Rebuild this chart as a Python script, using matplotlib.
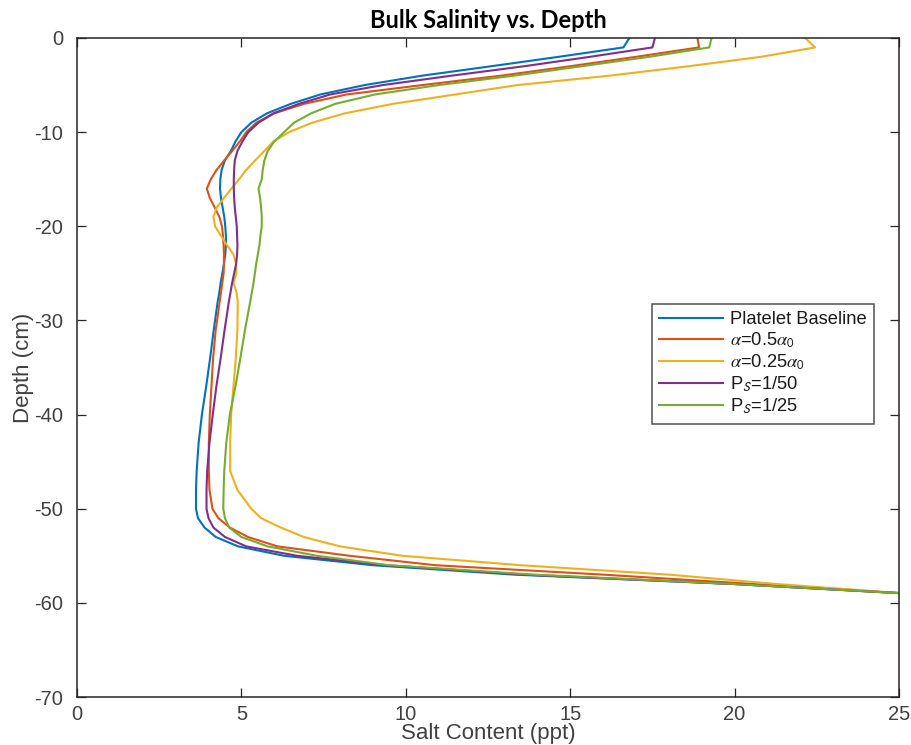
import matplotlib
matplotlib.use("Agg")
import matplotlib.pyplot as plt

# depth grid (cm) shared by all runs
depth = [0, -1, -2, -3, -4, -5, -6, -7, -8, -9, -10, -11, -12, -13, -14,
         -15, -16, -17, -18, -19, -20, -21, -22, -23, -24, -25, -26, -27,
         -28, -31, -34, -37, -40, -43, -46, -48, -50, -51, -52, -53, -54,
         -55, -56, -57, -58, -59]

# bulk salt content (ppt) for each run
baseline = [16.8, 16.62, 14.65, 12.6, 10.5, 8.75, 7.4, 6.5, 5.78, 5.3, 5.0,
            4.82, 4.68, 4.5, 4.4, 4.36, 4.35, 4.38, 4.43, 4.48, 4.51, 4.53,
            4.53, 4.51, 4.47, 4.42, 4.37, 4.33, 4.28, 4.16, 4.05, 3.93, 3.8,
            3.7, 3.64, 3.62, 3.62, 3.68, 3.88, 4.22, 4.9, 6.3, 9.0, 13.3,
            20.0, 25.2]
alpha_half = [18.87, 18.92, 17.0, 15.0, 12.9, 10.5, 8.2, 6.9, 6.0, 5.45,
              5.15, 4.95, 4.72, 4.48, 4.25, 4.07, 3.95, 4.04, 4.19, 4.33,
              4.41, 4.44, 4.46, 4.47, 4.47, 4.46, 4.42, 4.38, 4.34, 4.22,
              4.14, 4.09, 4.04, 4.01, 4.01, 4.03, 4.12, 4.3, 4.65, 5.2, 6.1,
              8.3, 10.9, 16.0, 20.6, 25.2]
alpha_quarter = [22.15, 22.45, 20.8, 18.6, 16.2, 13.4, 11.5, 9.6, 8.15, 7.15,
                 6.45, 5.97, 5.7, 5.42, 5.15, 4.93, 4.7, 4.47, 4.25, 4.15,
                 4.2, 4.38, 4.56, 4.76, 4.84, 4.85, 4.76, 4.85, 4.89, 4.88,
                 4.83, 4.76, 4.69, 4.66, 4.66, 4.88, 5.3, 5.6, 6.2, 6.9, 8.0,
                 9.9, 13.5, 18.0, 21.3, 25.2]
ps_50 = [17.58, 17.5, 15.6, 13.6, 11.4, 9.3, 7.7, 6.75, 5.98, 5.52, 5.21,
         5.03, 4.88, 4.8, 4.78, 4.77, 4.77, 4.78, 4.8, 4.83, 4.86, 4.87,
         4.88, 4.87, 4.84, 4.78, 4.72, 4.67, 4.62, 4.49, 4.37, 4.24, 4.13,
         4.03, 3.96, 3.94, 3.94, 4.0, 4.15, 4.5, 5.15, 6.7, 9.4, 13.6,
         20.0, 25.2]
ps_25 = [19.3, 19.23, 17.4, 15.35, 13.3, 11.0, 9.06, 7.85, 7.12, 6.6, 6.3,
         6.0, 5.8, 5.7, 5.65, 5.62, 5.52, 5.57, 5.6, 5.62, 5.62, 5.58, 5.55,
         5.5, 5.45, 5.41, 5.37, 5.32, 5.27, 5.11, 4.97, 4.82, 4.65, 4.54,
         4.48, 4.46, 4.45, 4.5, 4.63, 5.0, 5.8, 7.3, 9.5, 13.9, 20.0, 25.2]

series = [baseline, alpha_half, alpha_quarter, ps_50, ps_25]
labels = ["Platelet Baseline", r"$\alpha$=0.5$\alpha_{\mathsf{0}}$",
          r"$\alpha$=0.25$\alpha_{\mathsf{0}}$", r"P$_{\mathsf{S}}$=1/50",
          r"P$_{\mathsf{S}}$=1/25"]
colors = ["#0072BD", "#D95319", "#EDB120", "#7E2F8E", "#77AC30"]

plt.rcParams["font.family"] = ["Liberation Sans", "DejaVu Sans"]
plt.rcParams["mathtext.fontset"] = "stix"
plt.rcParams["axes.unicode_minus"] = False

fig = plt.figure(figsize=(9.12, 7.45), dpi=100)
ax = fig.add_axes([0.0844, 0.0644, 0.9013, 0.8846])

for vals, lab, col in zip(series, labels, colors):
    ax.plot(vals, depth, color=col, lw=1.5, label=lab)

ax.set_xlim(0, 25)
ax.set_ylim(-70, 0)
ax.set_xticks(range(0, 26, 5))
ax.set_yticks(range(-70, 1, 10))

axis_gray = "#262626"
text_gray = "#404040"
for s in ax.spines.values():
    s.set_color(axis_gray)
    s.set_linewidth(1.1)
ax.tick_params(direction="in", length=6.5, width=0.9, colors=axis_gray,
               labelsize=14.5, top=True, right=True, labelcolor=text_gray)
ax.tick_params(axis="x", pad=6)
ax.tick_params(axis="y", pad=10)

ax.set_xlabel("Salt Content (ppt)", fontsize=16, color=text_gray,
              labelpad=-1)
ax.set_ylabel("Depth (cm)", fontsize=16, color=text_gray, labelpad=0)
ax.set_title("Bulk Salinity vs. Depth", fontsize=17, fontweight="bold",
             family="Lato", pad=7)

leg = ax.legend(loc="upper left", bbox_to_anchor=(0.6995, 0.5964),
                fontsize=13.2, frameon=True, fancybox=False,
                edgecolor=axis_gray, borderaxespad=0, handlelength=3.5,
                handletextpad=0.35, labelspacing=0.14, borderpad=0.4)
leg.get_frame().set_linewidth(1.1)
for t in leg.get_texts():
    t.set_color("#1a1a1a")

fig.savefig("out.png", dpi=100)
